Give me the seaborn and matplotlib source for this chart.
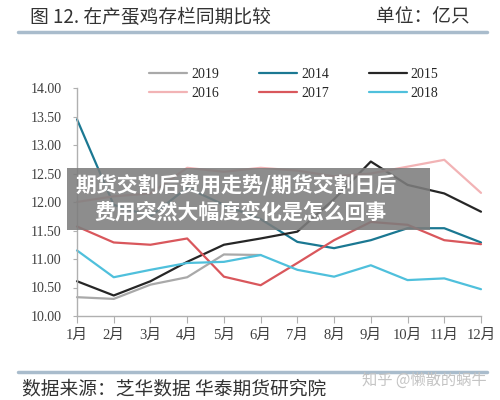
import numpy as np
import pandas as pd
import matplotlib
matplotlib.use("Agg")
import matplotlib.pyplot as plt
import seaborn as sns

# ── Data ──
months = ["1月", "2月", "3月", "4月", "5月", "6月", "7月", "8月", "9月", "10月", "11月", "12月"]
y2014 = [13.45, 11.95, 11.75, 12.25, 11.95, 11.70, 11.30, 11.19, 11.33, 11.54, 11.54, 11.29]
y2015 = [10.61, 10.36, 10.61, 10.95, 11.25, 11.36, 11.48, 12.05, 12.71, 12.30, 12.15, 11.83]
y2016 = [12.00, 12.10, 12.15, 12.60, 12.53, 12.60, 12.55, 12.45, 12.50, 12.62, 12.74, 12.16]
y2017 = [11.57, 11.29, 11.25, 11.36, 10.69, 10.54, 10.93, 11.33, 11.65, 11.60, 11.33, 11.26]
y2018 = [11.15, 10.68, 10.81, 10.93, 10.95, 11.07, 10.81, 10.69, 10.89, 10.63, 10.66, 10.47]
y2019 = [10.33, 10.30, 10.55, 10.68, 11.08, 11.07]

series = {"2019": y2019, "2014": y2014, "2015": y2015,
          "2016": y2016, "2017": y2017, "2018": y2018}
colors = {"2019": "#a9a9a9", "2014": "#1b7892", "2015": "#262626",
          "2016": "#f2b3b5", "2017": "#d9575c", "2018": "#4fc0dc"}

rows = []
for year, vals in series.items():
    for i, v in enumerate(vals):
        rows.append({"month": i + 1, "value": v, "year": year})
df = pd.DataFrame(rows)

sns.set_style("white")
plt.rcParams["font.family"] = ["Liberation Serif", "Noto Sans CJK SC", "DejaVu Sans"]

fig = plt.figure(figsize=(5, 4), dpi=100)
ax = fig.add_axes([77 / 500, 1 - 316 / 400, (481 - 77) / 500, (316 - 88) / 400])

sns.lineplot(data=df, x="month", y="value", hue="year", palette=colors,
             hue_order=list(series.keys()), linewidth=1.6, ax=ax, legend=False)

ax.set_xlim(1, 12)
ax.set_ylim(10, 14)
ax.set_xticks(range(1, 13))
ax.set_xticklabels(months)
ax.set_yticks(np.arange(10, 14.01, 0.5))
ax.set_yticklabels([f"{v:.2f}" for v in np.arange(10, 14.01, 0.5)])
ax.set_xlabel("")
ax.set_ylabel("")
for line in ax.lines:
    line.set_clip_on(False)

for s in ["top", "right"]:
    ax.spines[s].set_visible(False)
for s in ["left", "bottom"]:
    ax.spines[s].set_color("#b0b0b0")
    ax.spines[s].set_linewidth(1.0)
ax.tick_params(axis="x", direction="out", length=5, color="#b0b0b0",
               labelsize=10.5, labelcolor="#404040", pad=4)
ax.tick_params(axis="y", direction="out", length=3, color="#b0b0b0",
               labelsize=10, labelcolor="#404040", pad=8)
ax.tick_params(bottom=True, left=True)

# ── Legend: 3 columns, 2 rows ──
order = ["2019", "2016", "2014", "2017", "2015", "2018"]
handles = [plt.Line2D([], [], color=colors[k], lw=1.6) for k in order]
fig.legend(handles, order, loc="center", bbox_to_anchor=(294 / 500, 1 - 84 / 400),
           ncol=3, frameon=False, fontsize=10, handlelength=2.7,
           columnspacing=2.9, labelspacing=0.45, handletextpad=0.3)

# ── Header / footer ──
cjk = ["Noto Sans CJK SC", "DejaVu Sans"]
fig.text(30 / 500, 1 - 17 / 400, "图 12. 在产蛋鸡存栏同期比较", family=cjk,
         fontsize=13.5, color="#333333", va="center", ha="left")
fig.text(470 / 500, 1 - 17 / 400, "单位：亿只", family=cjk,
         fontsize=13.5, color="#333333", va="center", ha="right")
fig.add_artist(plt.Line2D([18 / 500, 487 / 500], [1 - 32 / 400] * 2,
                          color="#a9bccc", lw=2.5))
fig.add_artist(plt.Line2D([18 / 500, 487 / 500], [1 - 372 / 400] * 2,
                          color="#a9bccc", lw=2.5))
fig.text(22 / 500, 1 - 389 / 400, "数据来源：芝华数据 华泰期货研究院", family=cjk,
         fontsize=13.5, color="#333333", va="center", ha="left")
fig.text(487 / 500, 1 - 380 / 400, "知乎 @懒散的蜗牛", family=cjk,
         fontsize=11, color="#c4c4c4", va="center", ha="right")

# ── Overlay banner ──
fig.patches.append(plt.Rectangle((67 / 500, 1 - 230 / 400), (430 - 67) / 500, 62 / 400,
                                 transform=fig.transFigure, facecolor="#7d7d7d",
                                 alpha=0.88, edgecolor="none", zorder=5))
fig.text(76 / 500, 1 - 186 / 400, "期货交割后费用走势/期货交割日后", family=cjk,
         fontsize=15, fontweight="bold", color="white", va="center", ha="left", zorder=6)
fig.text(94 / 500, 1 - 212 / 400, "费用突然大幅度变化是怎么回事", family=cjk,
         fontsize=15, fontweight="bold", color="white", va="center", ha="left", zorder=6)

fig.savefig("out.png", dpi=100)
